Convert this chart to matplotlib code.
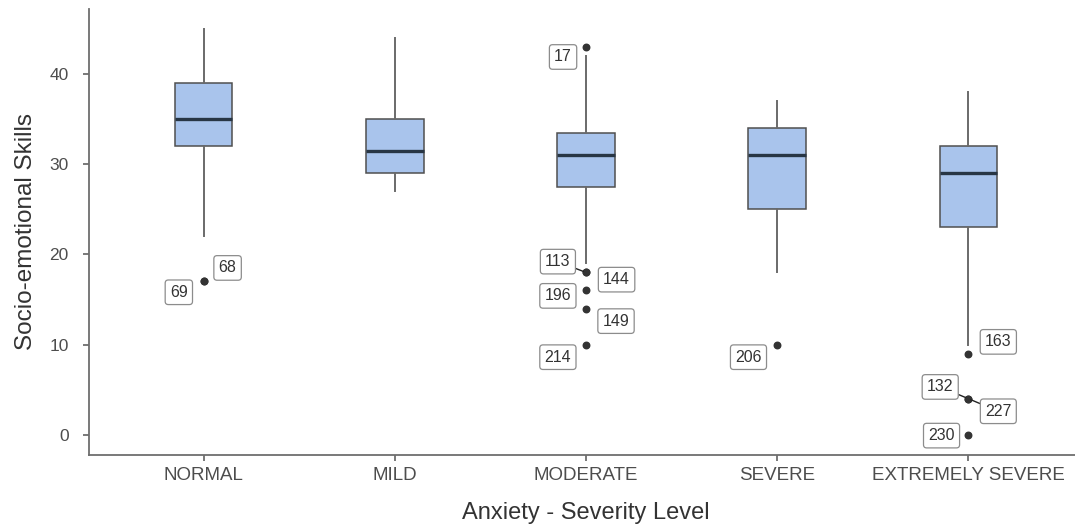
import matplotlib
matplotlib.use('Agg')
import matplotlib.pyplot as plt

plt.rcParams['font.family'] = ['Liberation Sans', 'DejaVu Sans']

# data
categories = ["NORMAL", "MILD", "MODERATE", "SEVERE", "EXTREMELY SEVERE"]
whisker_low = [22, 27, 19, 18, 10]
q1 = [32, 29, 27.5, 25, 23]
median = [35, 31.5, 31, 31, 29]
q3 = [39, 35, 33.5, 34, 32]
whisker_high = [45, 44, 42, 37, 38]

# outliers: group index, value, case id
out_group = [0, 0, 2, 2, 2, 2, 2, 2, 3, 4, 4, 4, 4]
out_value = [17, 17, 43, 18, 18, 16, 14, 10, 10, 9, 4, 4, 0]
out_id = ["68", "69", "17", "113", "144", "196", "149", "214", "206", "163", "132", "227", "230"]

# label placement (repel-like offsets: x in category units, y in data units)
label_dx = [0.125, -0.13, -0.12, -0.147, 0.16, -0.147, 0.157, -0.147, -0.15, 0.157, -0.147, 0.157, -0.14]
label_dy = [1.5, -1.2, -1.1, 1.2, -0.8, -0.6, -1.4, -1.4, -1.4, 1.3, 1.3, -1.4, -0.1]
with_segment = {"113", "132", "227"}

fig = plt.figure(figsize=(10.75, 5.3), dpi=100)
ax = fig.add_axes([89 / 1075, 75 / 530, 994 / 1075, 446.25 / 530])

positions = list(range(1, len(categories) + 1))
stats = []
for i in range(len(categories)):
    stats.append(dict(med=median[i], q1=q1[i], q3=q3[i],
                      whislo=whisker_low[i], whishi=whisker_high[i], fliers=[]))

ax.bxp(stats, positions=positions, widths=0.30, patch_artist=True, showcaps=False,
       boxprops=dict(facecolor='#A9C4EC', edgecolor='#4f4f4f', linewidth=1.1),
       whiskerprops=dict(color='#6a6a6a', linewidth=1.4),
       medianprops=dict(color='#283645', linewidth=2.4, solid_capstyle='butt'))

# outlier points
ax.scatter([positions[g] for g in out_group], out_value, s=22, color='#333333', zorder=4)

# outlier labels
for g, v, lab, dx, dy in zip(out_group, out_value, out_id, label_dx, label_dy):
    x = positions[g]
    arrow = None
    if lab in with_segment:
        arrow = dict(arrowstyle='-', color='#222222', lw=1.0, shrinkA=0, shrinkB=2)
    ax.annotate(lab, xy=(x, v), xytext=(x + dx, v + dy), ha='center', va='center',
                fontsize=11.5, color='#333333', zorder=5,
                bbox=dict(boxstyle='round,pad=0.3,rounding_size=0.2', facecolor='white',
                          edgecolor='#8c8c8c', linewidth=0.9),
                arrowprops=arrow)

ax.set_xlim(0.4, 5.6)
ax.set_ylim(-2.25, 47.25)
ax.set_xticks(positions)
ax.set_xticklabels(categories)
ax.set_yticks([0, 10, 20, 30, 40])

for side in ['top', 'right']:
    ax.spines[side].set_visible(False)
for side in ['left', 'bottom']:
    ax.spines[side].set_color('#6e6e6e')
    ax.spines[side].set_linewidth(1.3)

ax.tick_params(axis='x', length=4, width=1.1, color='#555555', labelsize=13.5,
               labelcolor='#4d4d4d', pad=5)
ax.tick_params(axis='y', length=4.5, width=1.1, color='#555555', labelsize=12.5,
               labelcolor='#4d4d4d', pad=10)

ax.set_xlabel("Anxiety - Severity Level", fontsize=17, color='#333333')
ax.set_ylabel("Socio-emotional Skills", fontsize=17.5, color='#333333')
ax.xaxis.set_label_coords(0.5, -0.105)
ax.yaxis.set_label_coords(-0.052, 0.5)

plt.savefig('out.png', dpi=100)
plt.close(fig)
